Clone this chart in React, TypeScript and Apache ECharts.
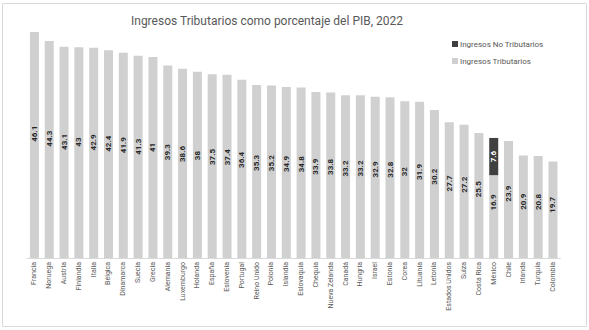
import React, { useEffect, useRef } from "react";
import * as echarts from "echarts";

const countries = [
  "Francia", "Noruega", "Austria", "Finlandia", "Italia", "Bélgica", "Dinamarca", "Suecia", "Grecia",
  "Alemania", "Luxemburgo", "Holanda", "España", "Eslovenia", "Portugal", "Reino Unido", "Polonia",
  "Islandia", "Eslovaquia", "Chequia", "Nueva Zelanda", "Canadá", "Hungria", "Israel", "Estonia",
  "Corea", "Lituania", "Letonia", "Estados Unidos", "Suiza", "Costa Rica", "México", "Chile",
  "Irlanda", "Turquia", "Colombia",
];

const tributarios = [
  46.1, 44.3, 43.1, 43, 42.9, 42.4, 41.9, 41.3, 41, 39.3, 38.6, 38, 37.5, 37.4, 36.4, 35.3, 35.2,
  34.9, 34.8, 33.9, 33.8, 33.2, 33.2, 32.9, 32.8, 32, 31.9, 30.2, 27.7, 27.2, 25.5, 16.9, 23.9,
  20.9, 20.8, 19.7,
];

const noTributarios = [
  null, null, null, null, null, null, null, null, null, null, null, null, null, null, null, null, null,
  null, null, null, null, null, null, null, null, null, null, null, null, null, null, 7.6, null,
  null, null, null,
];

const titleText = "Ingresos Tributarios como porcentaje del PIB, 2022";
const nameTrib = "Ingresos Tributarios";
const nameNoTrib = "Ingresos No Tributarios";

export default function App() {
  const ref = useRef<HTMLDivElement>(null);
  useEffect(() => {
    if (!ref.current) return;
    const chart = echarts.init(ref.current, null, { renderer: "svg" });
    const font = "Roboto";
    chart.setOption({
      animation: false,
      backgroundColor: "#ffffff",
      textStyle: { fontFamily: font },
      graphic: [
        {
          type: "rect",
          shape: { x: 2.5, y: 3.5, width: 584, height: 323 },
          style: { fill: "none", stroke: "#d9d9d9", lineWidth: 1 },
          silent: true,
        },
      ],
      title: {
        text: titleText,
        left: 262,
        top: 10,
        textAlign: "center",
        textStyle: { fontFamily: font, fontSize: 12, fontWeight: "normal", color: "#595959" },
      },
      legend: {
        orient: "vertical",
        left: 447,
        top: 35,
        itemWidth: 6,
        itemHeight: 6,
        itemGap: 9,
        icon: "rect",
        textStyle: { fontFamily: font, fontSize: 8, color: "#595959", padding: [0, 0, 0, -3] },
        data: [nameNoTrib, nameTrib],
      },
      grid: { left: 27, right: 28.6, top: 13, bottom: 72, containLabel: false },
      xAxis: {
        type: "category",
        data: countries,
        axisTick: { show: false },
        axisLine: { show: true, lineStyle: { color: "#d9d9d9" } },
        axisLabel: {
          interval: 0,
          rotate: 90,
          margin: 4,
          fontSize: 7,
          color: "#595959",
          fontFamily: font,
        },
      },
      yAxis: {
        type: "value",
        min: 0,
        max: 35 + 15,
        show: false,
        splitLine: { show: false },
      },
      series: [
        {
          name: nameTrib,
          type: "bar",
          stack: "total",
          barWidth: 9,
          itemStyle: { color: "#d0d0d0" },
          data: tributarios.map((v, i) =>
            countries[i] === "México"
              ? { value: v, label: { position: ["50%", "33%"] } }
              : v
          ),
          label: {
            show: true,
            rotate: 90,
            position: ["50%", "45%"],
            align: "center",
            verticalAlign: "middle",
            fontSize: 8,
            fontWeight: "bold",
            color: "#262626",
            fontFamily: font,
          },
        },
        {
          name: nameNoTrib,
          type: "bar",
          stack: "total",
          barWidth: 9,
          itemStyle: { color: "#404040" },
          data: noTributarios,
          label: {
            show: true,
            rotate: 90,
            position: "inside",
            fontSize: 8,
            fontWeight: "bold",
            color: "#ffffff",
            fontFamily: font,
          },
        },
      ],
    });
    return () => chart.dispose();
  }, []);
  return <div ref={ref} style={{ width: 589, height: 330, position: "fixed", left: 0, top: 0 }} />;
}
